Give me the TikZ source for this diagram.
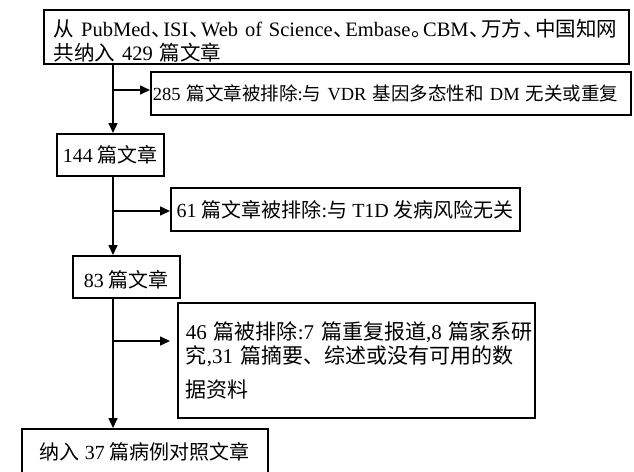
\documentclass[tikz,border=0pt]{standalone}
\usepackage{fontspec}
\setmainfont{Liberation Serif}
\newfontfamily\cjk{Noto Sans CJK SC}
\newfontfamily\cjkhalf[RawFeature=+halt]{Noto Sans CJK SC}
\newcommand\cj[1]{{\cjk #1}}
\newcommand\dun{\hspace{1pt}{\cjkhalf 、}\hspace{1.5pt}}
\newcommand\juhao{\hspace{1pt}{\cjkhalf 。}\hspace{1.5pt}}
\usetikzlibrary{arrows.meta}
\begin{document}
\begin{tikzpicture}[x=1pt,y=-1pt,
  box/.style={draw=black, line width=1.6pt, rectangle, anchor=north west, inner ysep=0pt},
  arr/.style={draw=black, line width=1.6pt, -{Triangle[length=10pt,width=9pt]}}]
\useasboundingbox (0,0) rectangle (634,471);
\fill[white] (0,0) rectangle (634,471);
% boxes
\node[box, minimum width=585pt, minimum height=54pt, inner xsep=10pt, text width=565pt, align=left,
      font=\fontsize{20.5}{24}\selectfont] (B1) at (43,9)
  {\mbox{\rule{0pt}{25pt}\cj{从} PubMed\dun ISI\dun Web of Science\dun Embase\juhao CBM\dun\cj{万方}\dun\cj{中国知网}}\\\mbox{\cj{共纳入} 429 \cj{篇文章}}};
\node[box, minimum width=480pt, minimum height=43pt, inner xsep=2pt, text width=476pt, align=left,
      font=\fontsize{18.5}{24}\selectfont] (B2) at (150,71)
  {\mbox{285 \cj{篇文章被排除}:\cj{与} VDR \cj{基因多态性和} DM \cj{无关或重复}}};
\node[box, minimum width=107pt, minimum height=42pt, inner xsep=2pt,
      font=\fontsize{20}{24}\selectfont] (B3) at (56,133)
  {144 \cj{篇文章}};
\node[box, minimum width=349pt, minimum height=43pt, inner xsep=2pt,
      font=\fontsize{20}{24}\selectfont] (B4) at (170,187)
  {61 \cj{篇文章被排除}:\cj{与} T1D \cj{发病风险无关}};
\node[box, minimum width=107pt, minimum height=42pt, inner xsep=2pt, text height=22pt, text depth=0pt,
      font=\fontsize{20}{24}\selectfont] (B5) at (72,255)
  {83 \cj{篇文章}};
\node[box, minimum width=357pt, minimum height=115pt, inner xsep=8pt, text width=341pt, align=left,
      font=\fontsize{21}{24}\selectfont] (B6) at (177,302)
  {\mbox{46 \cj{篇被排除}:7 \cj{篇重复报道},8 \cj{篇家系研}}\\\mbox{\cj{究},31 \cj{篇摘要、综述或没有可用的数}}\\[10pt]\mbox{\cj{据资料}}};
\node[box, minimum width=246pt, minimum height=46pt, inner xsep=2pt,
      font=\fontsize{20}{24}\selectfont] (B7) at (21,428)
  {\cj{纳入} 37 \cj{篇病例对照文章}};
% trunk coordinates
\coordinate (t) at (113,0);
\coordinate (j1) at (113,90);
\coordinate (j2) at (113,211);
\coordinate (j3) at (113,341);
% connectors
\draw[arr] (B1.south -| t) -- (B3.north -| t);
\draw[arr] (j1) -- (j1 -| B2.west);
\draw[arr] (B3.south -| t) -- (B5.north -| t);
\draw[arr] (j2) -- (j2 -| B4.west);
\draw[arr] (B5.south -| t) -- (B7.north -| t);
\draw[arr, shorten >=7pt] (j3) -- (j3 -| B6.west);
\end{tikzpicture}
\end{document}
